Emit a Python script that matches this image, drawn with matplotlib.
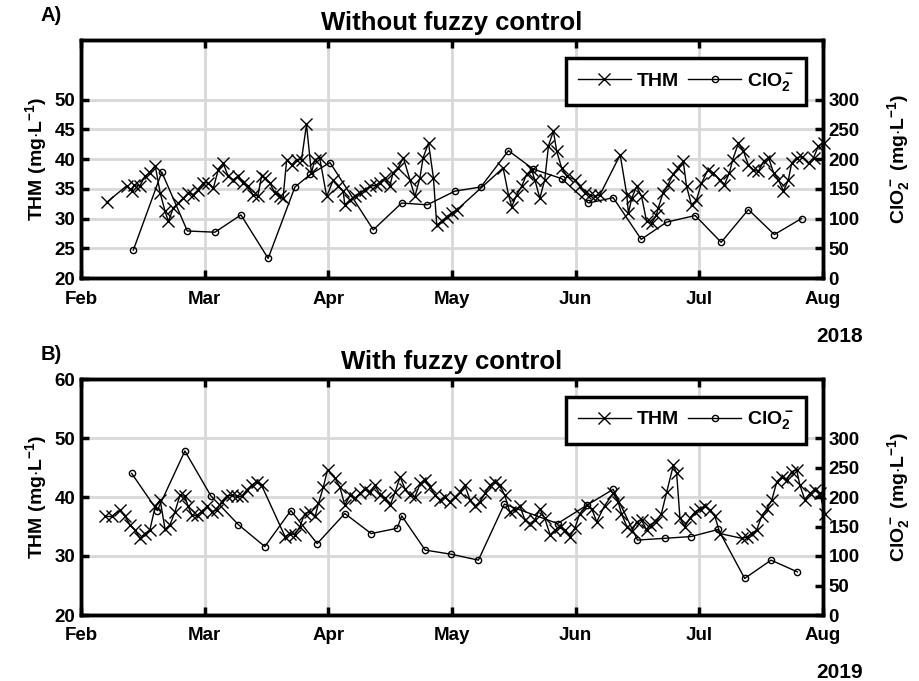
import matplotlib
matplotlib.use("Agg")
import matplotlib.pyplot as plt

plt.rcParams['font.family'] = ['Liberation Sans', 'DejaVu Sans']
plt.rcParams['font.weight'] = 'bold'
plt.rcParams['mathtext.fontset'] = 'custom'
plt.rcParams['mathtext.rm'] = 'Liberation Sans:bold'
plt.rcParams['mathtext.bf'] = 'Liberation Sans:bold'
plt.rcParams['mathtext.it'] = 'Liberation Sans:bold'

# Month axis: days counted from 1 Feb, one tick per month
month_ticks = [0, 30, 60, 90, 120, 150, 180]
month_labels = ['Feb', 'Mar', 'Apr', 'May', 'Jun', 'Jul', 'Aug']

# ---- 2018: without fuzzy control ----
thm18_day = [6.2, 11.1, 12.3, 12.9, 14.3, 15.5, 16.7, 18.0, 19.2, 20.4, 21.2, 22.4, 23.6, 24.8,
             26.0, 27.2, 28.4, 29.7, 30.9, 32.1, 33.3, 34.5, 35.7, 36.9, 38.1, 39.3, 40.5, 41.7,
             42.9, 43.8, 44.6, 45.8, 47.0, 48.2, 49.0, 49.9, 51.1, 52.3, 53.5, 54.7, 55.9, 56.7,
             57.9, 59.6, 61.2, 62.4, 63.6, 64.0, 65.2, 66.4, 67.6, 68.9, 70.1, 71.5, 72.5, 73.7,
             74.9, 75.7, 76.9, 78.2, 79.8, 81.0, 82.2, 83.0, 84.3, 85.5, 86.3, 87.5, 88.7, 89.9,
             91.1, 102.4, 103.7, 104.5, 105.7, 106.9, 108.1, 109.3, 110.1, 111.3, 112.5, 113.4,
             114.6, 115.4, 116.6, 117.9, 119.8, 121.0, 122.2, 123.4, 124.7, 125.9, 130.8, 132.4,
             132.8, 133.6, 134.8, 136.0, 137.2, 138.4, 139.6, 140.0, 141.2, 142.4, 143.6, 144.8,
             146.1, 146.9, 148.1, 149.3, 150.5, 152.1, 153.3, 154.9, 156.1, 157.3, 158.1, 159.5,
             160.7, 161.9, 163.1, 164.3, 165.6, 166.8, 168.0, 169.2, 170.4, 171.6, 172.4, 173.6,
             174.9, 176.5, 177.7, 178.9, 180.2]
thm18 = [32.7, 35.5, 34.6, 35.7, 35.5, 37.1, 37.7, 38.9, 34.3, 31.2, 29.5, 31.8, 32.6, 33.4,
         34.3, 34.0, 34.8, 36.0, 36.0, 35.1, 38.2, 39.3, 37.1, 36.5, 37.1, 36.0, 35.5, 34.0,
         33.8, 37.1, 36.8, 36.0, 34.3, 33.7, 33.4, 39.9, 39.0, 39.9, 39.9, 45.8, 37.6, 39.9,
         40.2, 33.7, 36.5, 35.4, 34.6, 32.3, 33.1, 33.7, 34.3, 34.8, 35.4, 35.6, 36.0, 36.8,
         35.4, 37.7, 38.5, 40.2, 36.5, 33.7, 36.8, 40.2, 42.7, 36.8, 28.9, 29.5, 30.3, 30.9,
         31.4, 38.5, 34.0, 32.0, 34.0, 35.4, 37.4, 38.2, 36.5, 33.4, 36.5, 42.2,
         44.7, 41.3, 38.5, 37.1, 36.5, 35.4, 34.3, 34.0, 33.7, 34.0, 40.7, 34.0,
         30.9, 33.4, 35.4, 33.7, 29.5, 29.2, 30.6, 31.7, 34.3, 35.7, 37.4, 38.5,
         39.6, 35.4, 32.3, 33.1, 35.9, 38.2, 37.7, 36.5, 35.7, 37.7, 39.9, 42.7,
         41.3, 39.0, 38.2, 37.9, 39.6, 40.2, 37.7, 36.5, 34.6, 36.5, 39.3, 40.2,
         40.4, 39.3, 40.2, 42.2, 42.7]
clo18_day = [12.7, 19.6, 25.8, 32.5, 38.8, 45.4, 51.9, 55.6, 60.4, 70.9, 77.8, 84.0, 90.7,
             97.0, 103.7, 109.7, 116.6, 123.1, 129.1, 135.9, 142.1, 149.0, 155.3, 161.9,
             168.2, 174.8]
clo18 = [47, 178, 79, 77, 106, 33, 153, 174, 194, 81, 126, 123, 146,
         153, 214, 183, 167, 126, 135, 65, 94, 105, 60, 115, 73, 100]

# ---- 2019: with fuzzy control ----
thm19_day = [5.8, 7.4, 9.5, 10.7, 11.9, 13.1, 14.3, 15.5, 16.7, 18.0, 19.2, 20.4, 21.6, 22.8,
             24.0, 25.2, 26.0, 26.9, 28.1, 29.3, 30.5, 31.7, 32.9, 34.1, 35.3, 36.6, 37.8, 39.0,
             40.2, 41.4, 42.6, 43.8, 49.5, 50.7, 51.9, 53.1, 54.3, 55.5, 56.8, 57.6, 58.8, 59.8,
             61.6, 62.8, 64.0, 65.3, 66.5, 67.7, 68.9, 70.1, 71.3, 72.6, 73.8, 75.0, 76.2, 77.4,
             78.6, 79.8, 81.0, 82.3, 83.5, 84.7, 85.9, 87.1, 88.3, 89.5, 90.7, 91.9, 93.1, 94.4,
             95.6, 96.8, 98.0, 99.2, 100.4, 101.6, 102.8, 104.0, 105.3, 106.5, 107.7, 108.9,
             110.1, 111.3, 112.5, 113.8, 115.0, 116.2, 117.4, 118.6, 119.8, 121.0, 122.7, 123.9,
             125.1, 127.0, 129.1, 130.3, 131.1, 132.4, 133.6, 134.8, 136.0, 137.2, 138.0, 139.6,
             140.8, 142.1, 143.7, 144.5, 145.3, 146.5, 147.7, 149.0, 150.2, 151.4, 152.6, 153.8,
             155.0, 160.3, 161.5, 162.7, 163.9, 165.1, 166.4, 167.6, 168.8, 170.0, 171.2, 172.4,
             173.6, 174.4, 175.6, 176.8, 178.0, 179.2, 180.5]
thm19 = [36.7, 36.7, 37.8, 36.7, 35.3, 34.4, 33.0, 33.8, 34.4, 38.4, 39.5, 34.5, 35.3, 37.5,
         40.3, 40.1, 38.4, 36.9, 36.9, 37.5, 38.4, 37.5, 37.8, 39.2, 40.1, 40.3, 40.1, 40.1,
         41.2, 42.0, 42.6, 42.0, 33.3, 33.8, 33.6, 35.0, 37.2, 37.5, 36.7, 38.9, 41.7, 44.6,
         43.2, 41.7, 38.6, 40.3, 39.8, 40.6, 41.4, 40.8, 42.0, 40.3, 39.8, 38.6, 40.8, 43.4,
         41.4, 40.3, 40.0, 42.3, 42.9, 41.7, 40.3, 39.5, 40.0, 39.2, 40.0, 40.8, 42.0, 39.5,
         38.4, 39.2, 40.6, 42.0, 42.6, 42.0, 40.3, 37.5, 37.8, 38.4, 36.1, 35.5,
         36.1, 38.0, 36.4, 33.6, 34.4, 35.0, 34.4, 33.3, 34.7, 37.2, 38.6, 38.0,
         35.8, 38.5, 40.6, 39.2, 37.2, 35.0, 34.2, 35.8, 36.1, 34.4, 35.3, 35.8,
         37.2, 40.9, 45.4, 44.0, 36.4, 35.0, 36.4, 37.5, 38.0, 38.4, 37.8, 36.7,
         33.8, 33.0, 33.2, 33.8, 34.4, 36.7, 38.0, 39.5, 42.6, 43.4, 42.9, 44.3,
         44.6, 42.0, 39.5, 40.6, 41.2, 40.6, 37.2]
clo19_day = [12.3, 18.5, 25.2, 31.5, 38.2, 44.6, 50.9, 57.3, 64.0, 70.4, 76.7, 77.8, 83.5,
             89.8, 96.4, 102.7, 115.6, 122.7, 129.1, 135.0, 141.7, 148.0, 154.6, 161.0,
             167.4, 173.8]
clo19 = [240, 177, 278, 202, 153, 116, 177, 121, 172, 138, 147, 168, 110,
         103, 93, 188, 155, 186, 213, 127, 130, 133, 145, 62, 93, 73]

W, H = 920, 681
fig = plt.figure(figsize=(W / 100, H / 100), dpi=100)

thm_label = r'THM (mg$\cdot$L$^{-1}$)'
clo_label = r'ClO$_2^-$ (mg$\cdot$L$^{-1}$)'


def panel(rect, thm_day, thm, clo_day, clo, left_ticks, title, tag, year):
    ax = fig.add_axes(rect)
    ax2 = ax.twinx()
    ax.set_xlim(0, 180)
    ax.set_ylim(20, 60)
    ax2.set_ylim(0, 400)
    ax.set_xticks(month_ticks)
    ax.set_xticklabels(month_labels, fontsize=15.5, fontweight='bold')
    ax.set_yticks(left_ticks)
    ax2.set_yticks([0, 50, 100, 150, 200, 250, 300])
    ax.grid(True, color='#d8d8d8', linewidth=2)
    ax.set_axisbelow(True)
    for a in (ax, ax2):
        for s in a.spines.values():
            s.set_linewidth(2.5)
    ax.tick_params(axis='both', direction='in', length=6, width=2.5,
                   labelsize=13.5, top=True, pad=4)
    ax.tick_params(axis='x', pad=9)
    ax2.tick_params(axis='y', direction='in', length=6, width=2.5, labelsize=13.5, pad=4)
    for lab in ax.get_yticklabels() + ax2.get_yticklabels():
        lab.set_fontweight('bold')

    l1, = ax.plot(thm_day, thm, color='black', lw=1.0, marker='x', ms=8, mew=1.0,
                  clip_on=False)
    l2, = ax2.plot(clo_day, clo, color='black', lw=1.0, marker='o', ms=4.5, mew=1.0,
                   mfc='none', clip_on=False)

    ax.set_ylabel(thm_label, fontsize=14, fontweight='bold', labelpad=4)
    ax2.set_ylabel(clo_label, fontsize=14, fontweight='bold', labelpad=18)
    ax.set_title(title, fontsize=18.5, fontweight='bold', pad=7)
    ax.text(-0.026, 1.065, tag, transform=ax.transAxes, fontsize=14.5, fontweight='bold',
            ha='right', va='bottom')
    ax.text(1.054, -0.205, year, transform=ax.transAxes, fontsize=15, fontweight='bold',
            ha='right', va='top')

    leg = ax2.legend([l1, l2], ['THM', r'ClO$_2^-$'], loc='upper right',
                     bbox_to_anchor=(1 - 17 / 742, 1 - 18 / 238), borderaxespad=0,
                     ncol=2, frameon=True, fancybox=False, framealpha=1,
                     edgecolor='black', prop={'weight': 'bold', 'size': 14},
                     handlelength=2.7, columnspacing=0.5, handletextpad=0.3,
                     borderpad=0.65)
    leg.get_frame().set_linewidth(2.5)
    return ax, ax2


left = 81 / W
width = 742 / W
panel([left, 1 - 278 / H, width, 238 / H], thm18_day, thm18, clo18_day, clo18,
      [20, 25, 30, 35, 40, 45, 50], 'Without fuzzy control', 'A)', '2018')
panel([left, 1 - 615 / H, width, 236 / H], thm19_day, thm19, clo19_day, clo19,
      [20, 30, 40, 50, 60], 'With fuzzy control', 'B)', '2019')

fig.savefig('out.png', dpi=100)
